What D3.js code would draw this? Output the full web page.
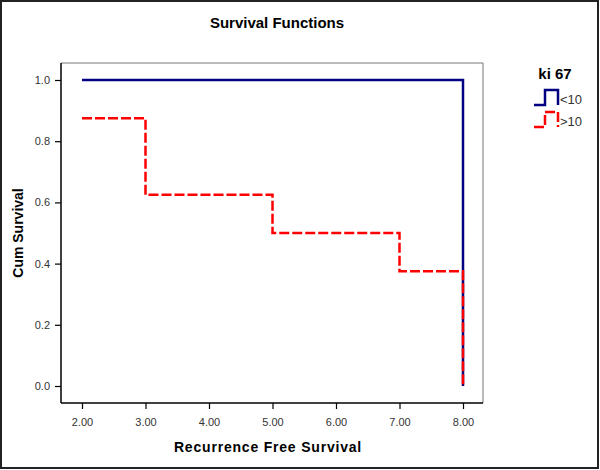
<!DOCTYPE html>
<html><head><meta charset="utf-8">
<script src="https://cdn.jsdelivr.net/npm/d3@7"></script>
<style>body{margin:0;background:#fff}svg{display:block}</style>
</head><body>
<svg id="c" width="600" height="470"></svg>
<script>
const xTicks = [2,3,4,5,6,7,8];
const yTicks = [0.0,0.2,0.4,0.6,0.8,1.0];
const groups = ["<10", ">10"];
// step function points: [time, survival]
const low = [[2,1.0],[8,1.0],[8,0.0]];
const high = [[2,0.875],[3,0.875],[3,0.625],[5,0.625],[5,0.5],[7,0.5],[7,0.375],[8,0.375],[8,0.0]];
const colors = ["#000080", "#ff0000"];

const svg = d3.select("#c");
const font = "Arial, 'Liberation Sans', sans-serif";
svg.append("rect").attr("x",1).attr("y",1).attr("width",597).attr("height",467)
  .attr("fill","#fff").attr("stroke","#222").attr("stroke-width",2);

const x = d3.scaleLinear().domain([2,8]).range([82,463]);
const y = d3.scaleLinear().domain([0,1]).range([386,80]);
const L=61, T=63, R=483, B=403;

// frame
svg.append("line").attr("x1",L).attr("x2",R).attr("y1",T).attr("y2",T).attr("stroke","#777").attr("stroke-width",1);
svg.append("line").attr("x1",R).attr("x2",R).attr("y1",T).attr("y2",B).attr("stroke","#777").attr("stroke-width",1);

const gx = svg.append("g").attr("transform",`translate(0,${B})`)
  .call(d3.axisBottom(x).tickValues(xTicks).tickFormat(d3.format(".2f")).tickSize(6).tickSizeOuter(0));
gx.select(".domain").attr("d",`M${L},0H${R}`).attr("stroke","#000").attr("stroke-width",1.5);
const gy = svg.append("g").attr("transform",`translate(${L},0)`)
  .call(d3.axisLeft(y).tickValues(yTicks).tickFormat(d3.format(".1f")).tickSize(6).tickSizeOuter(0));
gy.select(".domain").attr("d",`M0,${T}V${B}`).attr("stroke","#000").attr("stroke-width",1.5);
[gx,gy].forEach(g=>{
  g.selectAll(".tick line").attr("stroke","#000").attr("stroke-width",1.2);
  g.selectAll(".tick text").attr("font-family",font).attr("font-size",11).attr("fill","#333");
});
gx.selectAll(".tick text").attr("dy","1.3em");
gy.selectAll(".tick text").attr("dx","-2");

const line = d3.line().x(d=>x(d[0])).y(d=>y(d[1]));
svg.append("path").datum(low).attr("d",line).attr("fill","none")
  .attr("stroke",colors[0]).attr("stroke-width",2.5);
svg.append("path").datum(high).attr("d",line).attr("fill","none")
  .attr("stroke",colors[1]).attr("stroke-width",2.5).attr("stroke-dasharray","10,3");

svg.append("text").attr("x",277).attr("y",28).attr("text-anchor","middle")
  .attr("font-family",font).attr("font-weight","bold").attr("font-size",15).text("Survival Functions");
svg.append("text").attr("x",268).attr("y",452).attr("text-anchor","middle")
  .attr("font-family",font).attr("font-weight","bold").attr("font-size",14).attr("letter-spacing",0.8).text("Recurrence Free Survival");
svg.append("text").attr("transform","translate(23,233) rotate(-90)").attr("text-anchor","middle")
  .attr("font-family",font).attr("font-weight","bold").attr("font-size",14).text("Cum Survival");

// legend
svg.append("text").attr("x",555).attr("y",79).attr("text-anchor","middle")
  .attr("font-family",font).attr("font-weight","bold").attr("font-size",15).text("ki 67");
const ly = [105,127];
groups.forEach((g,i)=>{
  const b = ly[i];
  svg.append("path").attr("d",`M534,${b}H545V${b-15}H558V${b}`).attr("fill","none")
    .attr("stroke",colors[i]).attr("stroke-width",2.5)
    .attr("stroke-dasharray", i===1 ? "10,3" : null);
  svg.append("text").attr("x",560).attr("y",b-1).attr("font-family",font).attr("font-size",13)
    .attr("fill","#333").text(g);
});
</script>
</body></html>
